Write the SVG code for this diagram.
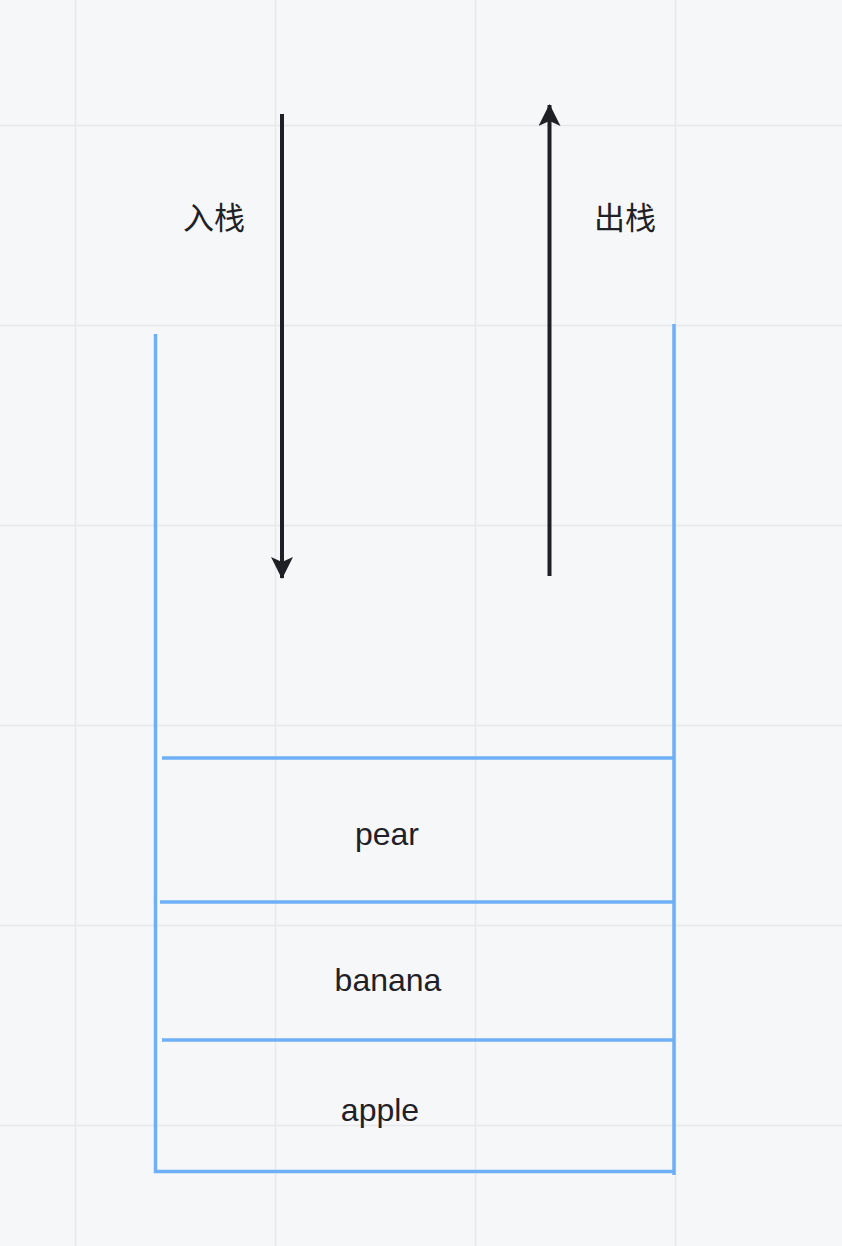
<svg xmlns="http://www.w3.org/2000/svg" width="842" height="1246" viewBox="0 0 842 1246">
  <style>
    .grid line { stroke: #e6e8eb; stroke-width: 1.5; }
    .wall { stroke: #6eaff6; stroke-width: 3.5; fill: none; stroke-linecap: butt; }
    .arrow { stroke: #1e2026; stroke-width: 4; fill: none; }
    .cjk { font-family: "Noto Sans CJK SC", "Liberation Sans", sans-serif; font-size: 31px; fill: #1f2127; text-anchor: middle; }
    .lbl { font-family: "Liberation Sans", Arial, sans-serif; font-size: 32px; fill: #1f2127; text-anchor: middle; }
  </style>
  <defs>
    <marker id="ah" viewBox="0 0 22 22" refX="21" refY="11" markerWidth="22" markerHeight="22" markerUnits="userSpaceOnUse" orient="auto">
      <path d="M0,0 L22,11 L0,22 L5,11 Z" fill="#1e2026"/>
    </marker>
  </defs>
  <rect x="0" y="0" width="842" height="1246" fill="#f6f7f9"/>
  <g class="grid">
    <line x1="75.5" y1="0" x2="75.5" y2="1246"/>
    <line x1="275.5" y1="0" x2="275.5" y2="1246"/>
    <line x1="475.5" y1="0" x2="475.5" y2="1246"/>
    <line x1="675.5" y1="0" x2="675.5" y2="1246"/>
    <line x1="0" y1="125.5" x2="842" y2="125.5"/>
    <line x1="0" y1="325.5" x2="842" y2="325.5"/>
    <line x1="0" y1="525.5" x2="842" y2="525.5"/>
    <line x1="0" y1="725.5" x2="842" y2="725.5"/>
    <line x1="0" y1="925.5" x2="842" y2="925.5"/>
    <line x1="0" y1="1125.5" x2="842" y2="1125.5"/>
  </g>
  <g id="stack">
    <path class="wall" d="M155.5,334 L155.5,1171.5 L674,1171.5"/>
    <line class="wall" x1="674" y1="324" x2="674" y2="1175"/>
  </g>
  <g id="pear">
    <line class="wall" x1="162" y1="758" x2="674" y2="758"/>
    <text class="lbl" x="387" y="845">pear</text>
  </g>
  <g id="banana">
    <line class="wall" x1="160" y1="902" x2="674" y2="902"/>
    <text class="lbl" x="388" y="991">banana</text>
  </g>
  <g id="apple">
    <line class="wall" x1="162" y1="1040" x2="674" y2="1040"/>
    <text class="lbl" x="380" y="1121">apple</text>
  </g>
  <g id="push-label">
    <text class="cjk" x="214" y="229">入栈</text>
  </g>
  <g id="pop-label">
    <text class="cjk" x="625" y="229">出栈</text>
  </g>
  <g id="connectors">
    <line class="arrow" x1="282" y1="114" x2="282" y2="578" marker-end="url(#ah)"/>
    <line class="arrow" x1="549.5" y1="576" x2="549.5" y2="105" marker-end="url(#ah)"/>
  </g>
</svg>
